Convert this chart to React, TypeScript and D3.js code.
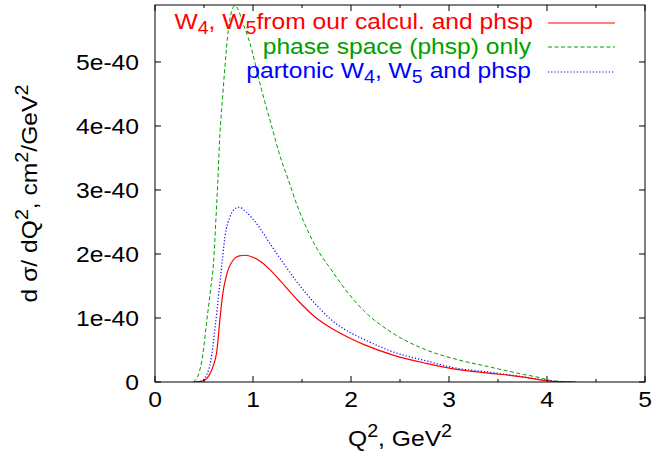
import React from "react";
import * as d3 from "d3";

const WIDTH = 653;
const HEIGHT = 466;
const PLOT = { left: 155, right: 645, top: 5, bottom: 382 };

const X_TICKS = [0, 1, 2, 3, 4, 5];
const X_MINOR_TICKS = [0.5, 1.5, 2.5, 3.5, 4.5];
const Y_TICKS = [0, 1, 2, 3, 4, 5];
const Y_TICK_LABELS = ["0", "1e-40", "2e-40", "3e-40", "4e-40", "5e-40"];
const Y_MAX = 5.89; // in units of 1e-40

// W4, W5 from our calcul. and phsp (red, solid) — values in 1e-40 cm^2/GeV^2
const RED_Q = [0.40, 0.45, 0.51, 0.55, 0.58, 0.61, 0.63, 0.66, 0.69, 0.73, 0.80, 0.86, 0.92, 1.00, 1.08, 1.17, 1.29, 1.46, 1.63, 1.80, 1.97, 2.14, 2.43, 2.77, 3.06, 3.40, 3.74, 3.95, 4.10, 4.30];
const RED_V = [0, 0.005, 0.03, 0.10, 0.19, 0.33, 0.47, 0.94, 1.36, 1.67, 1.91, 1.97, 1.98, 1.95, 1.88, 1.76, 1.56, 1.27, 1.02, 0.84, 0.70, 0.58, 0.42, 0.29, 0.20, 0.14, 0.08, 0.03, 0.005, 0];

// phase space (phsp) only (green, dashed)
const GREEN_Q = [0.39, 0.442, 0.487, 0.527, 0.568, 0.60, 0.62, 0.64, 0.66, 0.69, 0.714, 0.748, 0.78, 0.816, 0.85, 0.885, 0.969, 1.07, 1.12, 1.173, 1.224, 1.26, 1.36, 1.462, 1.548, 1.65, 1.80, 1.97, 2.14, 2.43, 2.77, 3.06, 3.40, 3.74, 3.95, 4.05, 4.27];
const GREEN_V = [0, 0.11, 0.42, 0.94, 1.46, 1.92, 2.50, 3.10, 3.80, 4.45, 4.93, 5.50, 5.78, 5.88, 5.82, 5.66, 5.29, 4.67, 4.38, 4.09, 3.81, 3.61, 3.16, 2.71, 2.40, 2.09, 1.75, 1.39, 1.10, 0.76, 0.50, 0.36, 0.24, 0.125, 0.06, 0.02, 0];

// partonic W4, W5 and phsp (blue, dotted)
const BLUE_Q = [0.40, 0.45, 0.49, 0.53, 0.568, 0.612, 0.656, 0.687, 0.714, 0.765, 0.81, 0.861, 0.92, 0.986, 1.09, 1.17, 1.29, 1.46, 1.63, 1.80, 1.97, 2.14, 2.43, 2.77, 3.06, 3.40, 3.74, 3.95, 4.10, 4.20];
const BLUE_V = [0, 0.005, 0.03, 0.12, 0.32, 0.84, 1.46, 1.91, 2.27, 2.58, 2.70, 2.73, 2.67, 2.57, 2.36, 2.17, 1.90, 1.54, 1.23, 0.97, 0.79, 0.66, 0.47, 0.33, 0.22, 0.155, 0.085, 0.035, 0.01, 0];

const FONT = "'Liberation Sans', Arial, Helvetica, sans-serif";
const FS = 22;
const SX = 1.12;

const RED = "#ff0000";
const GREEN = "#00a000";
const BLUE = "#0000ff";

export default function App() {
  const x = d3.scaleLinear().domain([0, 5]).range([PLOT.left, PLOT.right]);
  const y = d3.scaleLinear().domain([0, Y_MAX]).range([PLOT.bottom, PLOT.top]);

  const line = d3
    .line<[number, number]>()
    .x((d) => x(d[0]))
    .y((d) => y(d[1]))
    .curve(d3.curveMonotoneX);

  const series = [
    { q: GREEN_Q, v: GREEN_V, color: GREEN, dash: "4,2.5", w: 1 },
    { q: BLUE_Q, v: BLUE_V, color: BLUE, dash: "1.2,2", w: 1.2 },
    { q: RED_Q, v: RED_V, color: RED, dash: undefined, w: 1.2 },
  ];

  const legend = [
    { color: RED, dash: undefined, w: 1.2, yy: 23 },
    { color: GREEN, dash: "4,2.5", w: 1.1, yy: 47 },
    { color: BLUE, dash: "1.2,2", w: 1.2, yy: 72 },
  ];

  const sub = { fontSize: FS * 0.8 };

  return (
    <svg width={WIDTH} height={HEIGHT} style={{ position: "absolute", left: 0, top: 0, background: "#fff" }} fontFamily={FONT}>
      <defs>
        <clipPath id="clip">
          <rect x={PLOT.left} y={PLOT.top} width={PLOT.right - PLOT.left} height={PLOT.bottom - PLOT.top} />
        </clipPath>
      </defs>
      <rect x={0} y={0} width={WIDTH} height={HEIGHT} fill="#fff" />
      {/* curves */}
      <g clipPath="url(#clip)">
        {series.map((s, i) => (
          <path
            key={i}
            d={line(s.q.map((q, j) => [q, s.v[j]] as [number, number])) || ""}
            fill="none"
            stroke={s.color}
            strokeWidth={s.w}
            strokeDasharray={s.dash}
          />
        ))}
      </g>

      {/* frame */}
      <rect x={PLOT.left} y={PLOT.top} width={PLOT.right - PLOT.left} height={PLOT.bottom - PLOT.top} fill="none" stroke="#000" strokeWidth={1} />

      {/* x ticks */}
      {X_TICKS.map((t) => (
        <g key={"xt" + t}>
          <line x1={x(t)} x2={x(t)} y1={PLOT.bottom} y2={PLOT.bottom - 6} stroke="#000" />
          <line x1={x(t)} x2={x(t)} y1={PLOT.top} y2={PLOT.top + 6} stroke="#000" />
          <g transform={`translate(${x(t)},407) scale(${SX},1)`}>
            <text textAnchor="middle" fontSize={FS} fill="#000">{t}</text>
          </g>
        </g>
      ))}
      {X_MINOR_TICKS.map((t) => (
        <g key={"xm" + t}>
          <line x1={x(t)} x2={x(t)} y1={PLOT.bottom} y2={PLOT.bottom - 3} stroke="#000" />
          <line x1={x(t)} x2={x(t)} y1={PLOT.top} y2={PLOT.top + 3} stroke="#000" />
        </g>
      ))}

      {/* y ticks */}
      {Y_TICKS.map((t, i) => (
        <g key={"yt" + t}>
          <line x1={PLOT.left} x2={PLOT.left + 6} y1={y(t)} y2={y(t)} stroke="#000" />
          <line x1={PLOT.right} x2={PLOT.right - 6} y1={y(t)} y2={y(t)} stroke="#000" />
          <g transform={`translate(139,${y(t) + 8}) scale(${SX},1)`}>
            <text textAnchor="end" fontSize={FS} fill="#000">{Y_TICK_LABELS[i]}</text>
          </g>
        </g>
      ))}

      {/* axis titles */}
      <g transform={`translate(400,446) scale(${SX},1)`}>
        <text textAnchor="middle" fontSize={FS} fill="#000">
          Q<tspan dy={-9} fontSize={FS * 0.8}>2</tspan>
          <tspan dy={9}>, GeV</tspan>
          <tspan dy={-9} fontSize={FS * 0.8}>2</tspan>
        </text>
      </g>
      <g transform={`translate(37,193.5) rotate(-90) scale(${SX},1)`}>
        <text textAnchor="middle" fontSize={FS} fill="#000">
          d σ/ dQ<tspan dy={-9} fontSize={FS * 0.8}>2</tspan>
          <tspan dy={9}>, cm</tspan>
          <tspan dy={-9} fontSize={FS * 0.8}>2</tspan>
          <tspan dy={9}>/GeV</tspan>
          <tspan dy={-9} fontSize={FS * 0.8}>2</tspan>
        </text>
      </g>

      {/* legend */}
      {legend.map((l, i) => (
        <line key={"ll" + i} x1={548} x2={615} y1={l.yy} y2={l.yy} stroke={l.color} strokeWidth={l.w} strokeDasharray={l.dash} />
      ))}
      <g transform={`translate(533,${23 + 6}) scale(${SX},1)`}>
        <text textAnchor="end" fontSize={FS} fill={RED}>
          W<tspan dy={5} {...sub}>4</tspan>
          <tspan dy={-5}>, W</tspan>
          <tspan dy={5} {...sub}>5</tspan>
          <tspan dy={-5}>from our calcul. and phsp</tspan>
        </text>
      </g>
      <g transform={`translate(531,${47.5 + 6}) scale(${SX},1)`}>
        <text textAnchor="end" fontSize={FS} fill={GREEN}>phase space (phsp) only</text>
      </g>
      <g transform={`translate(531,${72 + 6}) scale(${SX},1)`}>
        <text textAnchor="end" fontSize={FS} fill={BLUE}>
          partonic W<tspan dy={5} {...sub}>4</tspan>
          <tspan dy={-5}>, W</tspan>
          <tspan dy={5} {...sub}>5</tspan>
          <tspan dy={-5}> and phsp</tspan>
        </text>
      </g>
    </svg>
  );
}
